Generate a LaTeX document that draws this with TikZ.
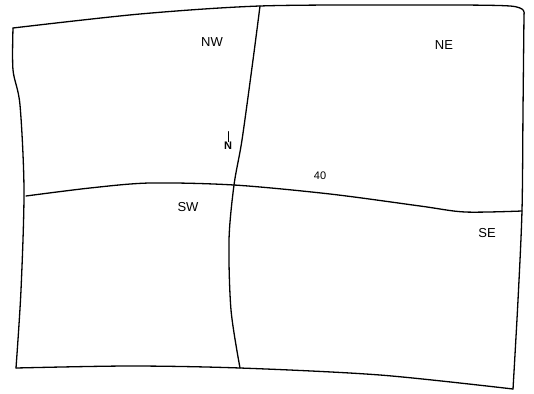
\documentclass[tikz,border=0pt]{standalone}
\usepackage{fontspec}
\setmainfont{Liberation Sans}
\begin{document}
\begin{tikzpicture}[x=1pt,y=-1pt,line width=1.3pt,line join=round,line cap=round,
    quad/.style={font=\fontsize{13}{13}\selectfont},
    small/.style={font=\fontsize{11}{11}\selectfont}]
            \useasboundingbox (0,0) rectangle (534,393);

            % Draw outer frame
            \draw plot[smooth,tension=0.5] coordinates {(13,28) (140,14) (260,6) (400,5) (510,6) (524,14)};
            \draw plot[smooth,tension=0.5] coordinates {(524,14) (523,110) (522,210) (518,300) (513,389)};
            \draw plot[smooth,tension=0.5] coordinates {(16,368) (130,366) (240,368) (380,375) (513,389)};
            \draw plot[smooth,tension=0.5] coordinates {(13,28) (13,70) (20,105) (24,190) (21,290) (16,368)};

            % Draw dividing lines
            \draw plot[smooth,tension=0.5] coordinates {(260,6) (253,60) (242,140) (234,185) (229,240) (231,310) (240,368)};
            \draw plot[smooth,tension=0.5] coordinates {(26,196) (90,188) (150,183) (234,185) (330,194) (420,206) (465,212) (522,211)};

            % Quadrant labels
            \node[quad] (nw) at (212,42) {NW};
            \node[quad] (ne) at (444,45) {NE};
            \node[quad] (sw) at (188,207) {SW};
            \node[quad] (se) at (487,233) {SE};

            % Line labels
            \node[small] (forty) at (320,176) {40};
            \node[small,inner sep=0pt] (north) at (228,146) {\textbf{N}};
            \draw[line width=1pt] (north.north) -- ++(0,-10);
        \end{tikzpicture}
\end{document}
